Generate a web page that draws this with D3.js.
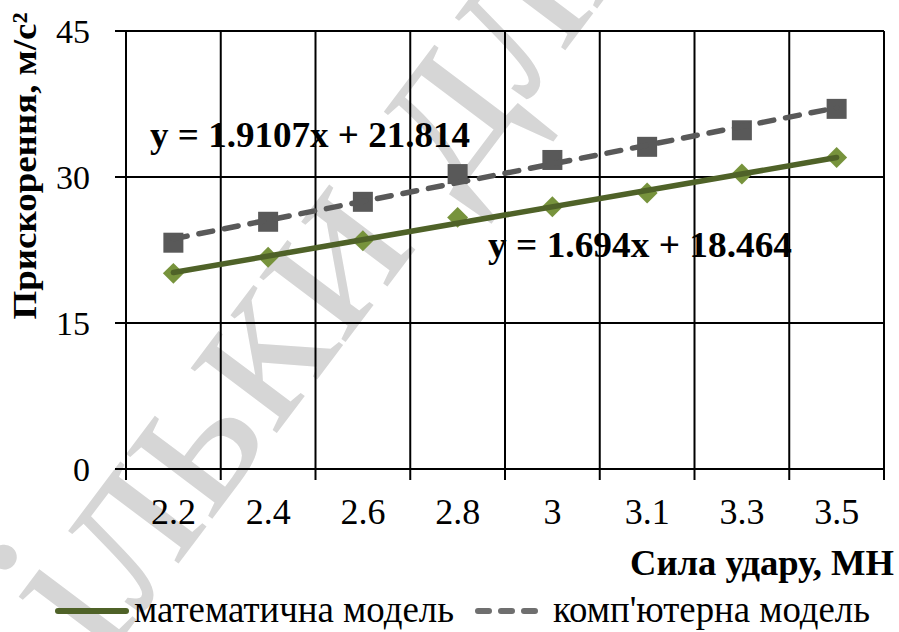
<!DOCTYPE html>
<html>
<head>
<meta charset="utf-8">
<script src="https://cdn.jsdelivr.net/npm/d3@7"></script>
<style>
  body { margin: 0; background: #fff; }
</style>
</head>
<body>
<div id="chart"></div>
<script>
// categories (сила удару, МН)
const forces = ["2.2", "2.4", "2.6", "2.8", "3", "3.1", "3.3", "3.5"];
// прискорення, м/с²
const mathModel = [20.1, 21.75, 23.45, 25.85, 26.95, 28.35, 30.3, 32.0];
const compModel = [23.25, 25.4, 27.45, 30.3, 31.75, 33.1, 34.8, 37.0];
const yTicks = [0, 15, 30, 45];
const mathEq = "y = 1.694x + 18.464";
const compEq = "y = 1.9107x + 21.814";

const width = 899, height = 632;
const margin = { top: 31, right: 15, bottom: 163, left: 126 };
const serif = '"Liberation Serif", "Times New Roman", serif';

const svg = d3.select("#chart").append("svg")
  .attr("width", width)
  .attr("height", height)
  .style("display", "block")
  .style("font-family", serif);

// watermark behind the chart
svg.append("text")
  .attr("transform", "translate(100,668) rotate(-53)")
  .style("font-family", serif)
  .attr("font-size", 235)
  .attr("fill", "#d6d6d6")
  .text("ільки для");

const x = d3.scaleBand()
  .domain(forces)
  .range([margin.left, width - margin.right])
  .padding(0);

const y = d3.scaleLinear()
  .domain([0, 45])
  .range([height - margin.bottom, margin.top]);

const grid = svg.append("g").attr("stroke", "#000").attr("stroke-width", 2);

// horizontal gridlines + left ticks
grid.selectAll("line.h")
  .data(yTicks)
  .join("line")
  .attr("class", "h")
  .attr("x1", margin.left - 11)
  .attr("x2", width - margin.right)
  .attr("y1", d => y(d))
  .attr("y2", d => y(d));

// vertical gridlines at category boundaries + bottom ticks
const bounds = forces.map(d => x(d)).concat([x.range()[1]]);
grid.selectAll("line.v")
  .data(bounds)
  .join("line")
  .attr("class", "v")
  .attr("x1", d => d)
  .attr("x2", d => d)
  .attr("y1", y(45))
  .attr("y2", y(0) + 11);

// y tick labels
svg.append("g")
  .selectAll("text")
  .data(yTicks)
  .join("text")
  .attr("x", 90)
  .attr("y", d => y(d))
  .attr("dy", "0.35em")
  .attr("text-anchor", "end")
  .style("font-family", serif)
  .attr("font-size", 34)
  .text(d => d);

// x tick labels
svg.append("g")
  .selectAll("text")
  .data(forces)
  .join("text")
  .attr("x", d => x(d) + x.bandwidth() / 2)
  .attr("y", 524)
  .attr("text-anchor", "middle")
  .style("font-family", serif)
  .attr("font-size", 36)
  .text(d => d);

// axis titles
svg.append("text")
  .attr("transform", "translate(36,166) rotate(-90)")
  .attr("text-anchor", "middle")
  .style("font-family", serif)
  .attr("font-size", 34)
  .attr("font-weight", "bold")
  .attr("textLength", 307)
  .attr("lengthAdjust", "spacingAndGlyphs")
  .text("Прискорення, м/с²");

svg.append("text")
  .attr("x", 630)
  .attr("y", 575)
  .style("font-family", serif)
  .attr("font-size", 35)
  .attr("font-weight", "bold")
  .attr("textLength", 264)
  .attr("lengthAdjust", "spacingAndGlyphs")
  .text("Сила удару, МН");

const cx = d => x(d) + x.bandwidth() / 2;

// linear trend from the points (index 1..n, as the spreadsheet does)
function trend(values) {
  const n = values.length;
  const xs = d3.range(1, n + 1);
  const mx = d3.mean(xs), my = d3.mean(values);
  const b = d3.sum(xs, (v, i) => (v - mx) * (values[i] - my)) / d3.sum(xs, v => (v - mx) ** 2);
  const a = my - b * mx;
  return [[forces[0], a + b], [forces[n - 1], a + b * n]];
}

const plot = svg.append("g");

// computer model: squares + dashed trend
plot.selectAll("rect.comp")
  .data(forces)
  .join("rect")
  .attr("class", "comp")
  .attr("x", (d) => cx(d) - 10)
  .attr("y", (d, i) => y(compModel[i]) - 10)
  .attr("width", 20)
  .attr("height", 20)
  .attr("fill", "#595959");

plot.append("path")
  .datum(trend(compModel))
  .attr("d", d3.line().x(d => cx(d[0])).y(d => y(d[1])))
  .attr("fill", "none")
  .attr("stroke", "#595959")
  .attr("stroke-width", 5.5)
  .attr("stroke-linecap", "round")
  .attr("stroke-dasharray", "14,12");

// math model: diamonds + solid trend
plot.selectAll("path.math")
  .data(forces)
  .join("path")
  .attr("class", "math")
  .attr("d", d3.symbol(d3.symbolDiamond2, 280))
  .attr("transform", (d, i) => `translate(${cx(d)},${y(mathModel[i])})`)
  .attr("fill", "#77933c");

plot.append("path")
  .datum(trend(mathModel))
  .attr("d", d3.line().x(d => cx(d[0])).y(d => y(d[1])))
  .attr("fill", "none")
  .attr("stroke", "#4f6228")
  .attr("stroke-width", 5.5)
  .attr("stroke-linecap", "round");

// equation labels
svg.append("text")
  .attr("x", 150)
  .attr("y", 147)
  .style("font-family", serif)
  .attr("font-size", 35)
  .attr("font-weight", "bold")
  .attr("textLength", 320)
  .attr("lengthAdjust", "spacingAndGlyphs")
  .text(compEq);

svg.append("text")
  .attr("x", 488)
  .attr("y", 257)
  .style("font-family", serif)
  .attr("font-size", 35)
  .attr("font-weight", "bold")
  .attr("textLength", 304)
  .attr("lengthAdjust", "spacingAndGlyphs")
  .text(mathEq);

// legend
const legend = svg.append("g");
const legendItems = [
  { label: "математична модель", x1: 58, x2: 126, tx: 134, len: 320, color: "#4f6228", dash: null },
  { label: "комп'ютерна модель", x1: 478, x2: 545, tx: 553, len: 317, color: "#6f6f6f", dash: "11,12" }
];
legendItems.forEach(it => {
  legend.append("line")
    .attr("x1", it.x1).attr("x2", it.x2)
    .attr("y1", 611).attr("y2", 611)
    .attr("stroke", it.color)
    .attr("stroke-width", 6)
    .attr("stroke-linecap", "round")
    .attr("stroke-dasharray", it.dash);
  legend.append("text")
    .attr("x", it.tx)
    .attr("y", 622)
    .style("font-family", serif)
    .attr("font-size", 38)
    .attr("textLength", it.len)
    .attr("lengthAdjust", "spacingAndGlyphs")
    .text(it.label);
});
</script>
</body>
</html>
